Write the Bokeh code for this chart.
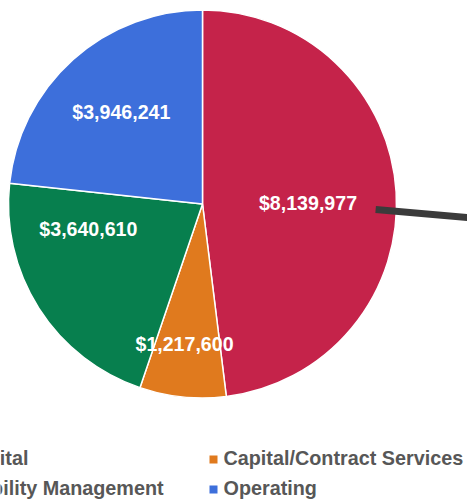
import math
from bokeh.plotting import figure
from bokeh.models import Range1d, ColumnDataSource
from bokeh.core.properties import value
from bokeh.embed import file_html
from bokeh.resources import INLINE

# ---- data ----
categories = ["Capital", "Capital/Contract Services", "Mobility Management", "Operating"]
values = [8139977, 1217600, 3640610, 3946241]
colors = ["#c5234a", "#e07a1e", "#077f4e", "#3d6fdb"]

# ---- style / layout ----
FONT = "Liberation Sans"
W, H = 467, 502
cx, cy, R = 202.0, -203.5, 194.0
label_r = [105.5, 142.0, 117.0, 122.0]
label_shift = [3.5, 1.4, 19.8, 0.2]
label_size = 19.6

p = figure(width=W, height=H, output_backend="svg", toolbar_location=None,
           x_range=Range1d(0, W), y_range=Range1d(-H, 0),
           min_border=0, min_border_left=0, min_border_right=0,
           min_border_top=0, min_border_bottom=0)
p.axis.visible = False
p.grid.visible = False
p.outline_line_color = None
p.background_fill_color = "white"
p.border_fill_color = "white"

total = float(sum(values))
starts, ends, lx, ly, texts = [], [], [], [], []
cum = 0.0
for i, v in enumerate(values):
    t1 = cum / total * 360.0
    cum += v
    t2 = cum / total * 360.0
    starts.append(math.radians(90 - t2))
    ends.append(math.radians(90 - t1))
    mid = (t1 + t2) / 2 + label_shift[i]
    r = label_r[i]
    lx.append(cx + r * math.sin(math.radians(mid)))
    ly.append(cy + r * math.cos(math.radians(mid)) + 0.5)
    texts.append("${:,}".format(v))

src = ColumnDataSource(dict(x=[cx] * len(values), y=[cy] * len(values),
                            start=starts, end=ends, color=colors,
                            lx=lx, ly=ly, text=texts, cat=categories))

p.wedge(x="x", y="y", radius=R, start_angle="start", end_angle="end",
        direction="anticlock", fill_color="color", line_color="white",
        line_width=1.5, source=src)

p.text(x="lx", y="ly", text="text", source=src, text_color="white",
       text_font=value(FONT), text_font_style="bold",
       text_font_size=f"{label_size}px", text_align="center",
       text_baseline="alphabetic")

# leader line from the Capital slice
a0 = math.radians(91.5)
x0 = cx + 173.2 * math.sin(a0)
y0 = cy + 173.2 * math.cos(a0) - 1.0
p.segment(x0=[x0], y0=[y0], x1=[x0 + 110], y1=[y0 - 110 * 8 / 92],
          line_color="#3b3b3b", line_width=7, line_cap="butt")

# legend (two columns, left column partly cut off)
leg_size = 19.8
col_x = [-38.0, 223.0]
row_y = [-457.5, -487.5]
leg_x, leg_y, leg_mx, leg_my = [], [], [], []
for i, c in enumerate(categories):
    col = 0 if i in (0, 2) else 1
    row = 0 if i in (0, 1) else 1
    leg_x.append(col_x[col])
    leg_y.append(row_y[row])
    leg_mx.append(col_x[col] - 10)
    leg_my.append(row_y[row] - 1.5)

lsrc = ColumnDataSource(dict(x=leg_x, y=leg_y, mx=leg_mx, my=leg_my,
                             text=categories, color=colors))
p.rect(x="mx", y="my", width=8, height=8, fill_color="color",
       line_color=None, source=lsrc)
p.text(x="x", y="y", text="text", source=lsrc, text_color="#575757",
       text_font=value(FONT), text_font_style="bold",
       text_font_size=f"{leg_size}px", text_align="left",
       text_baseline="alphabetic")

open("out.html", "w").write(file_html(p, INLINE))
